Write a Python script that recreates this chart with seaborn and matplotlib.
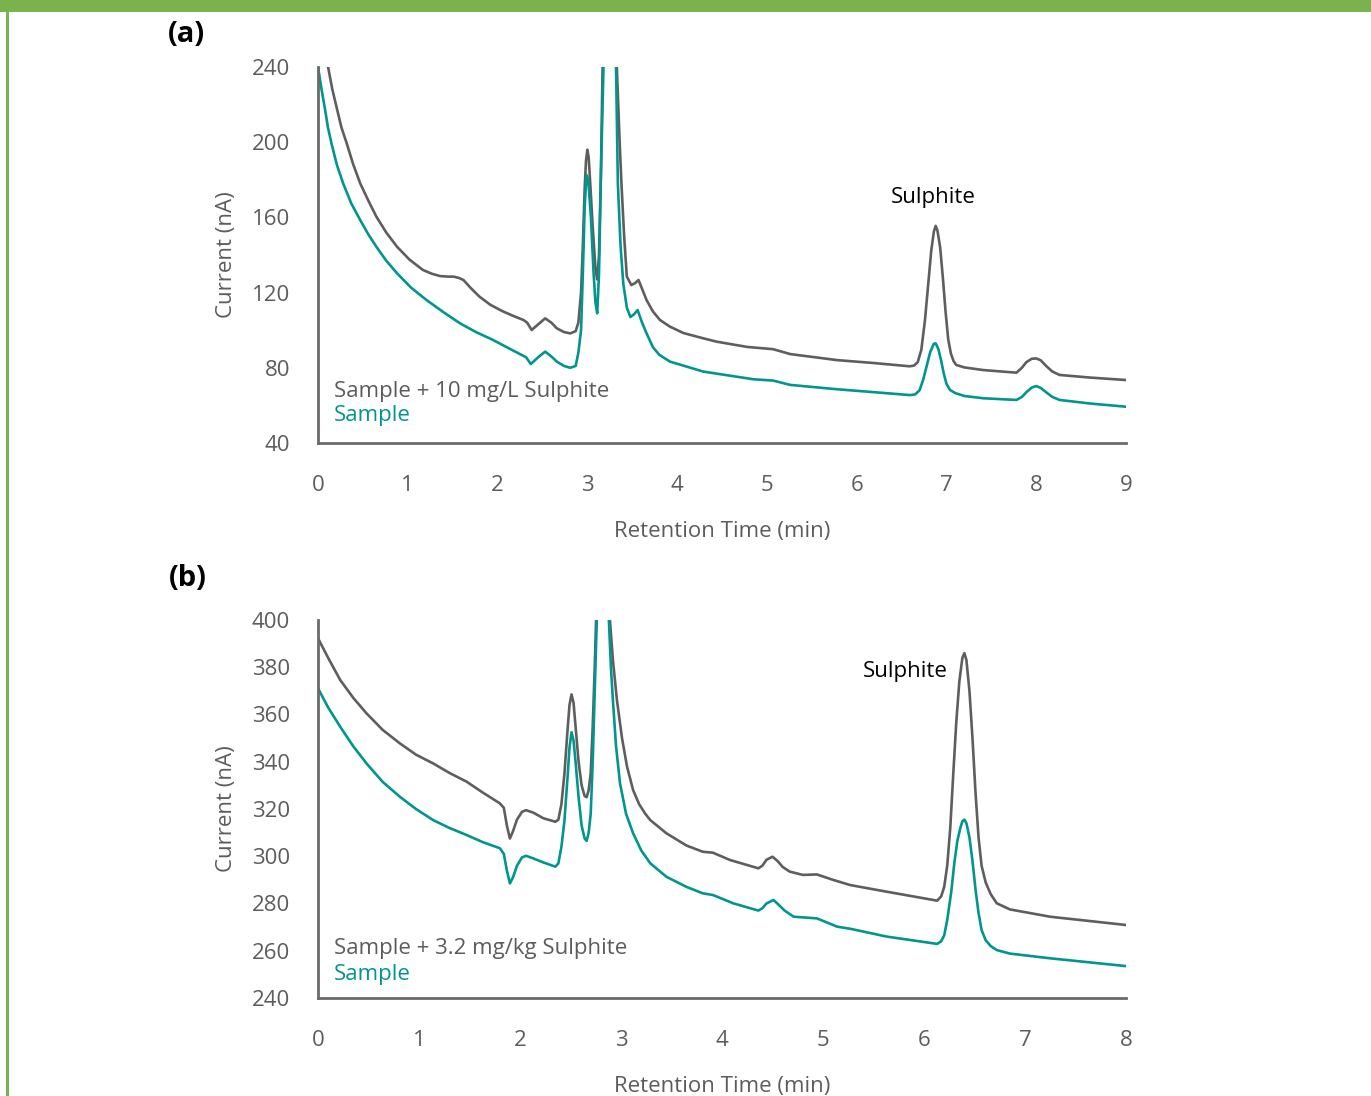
import matplotlib
matplotlib.use("Agg")
import matplotlib.pyplot as plt
from matplotlib.patches import Rectangle
import seaborn as sns
import pandas as pd

# ---------------- data: panel (a) ----------------
a_spiked_t = [0.08, 0.115, 0.16, 0.21, 0.26, 0.32, 0.39, 0.47, 0.56, 0.65, 0.76, 0.88, 1.02, 1.17, 1.27,
              1.36, 1.45, 1.51, 1.57, 1.62, 1.70, 1.80, 1.92, 2.06, 2.18, 2.29, 2.33, 2.38, 2.45, 2.53,
              2.60, 2.66, 2.74, 2.81, 2.87, 2.90, 2.93, 2.95, 2.97, 2.985, 3.00, 3.015, 3.03, 3.06, 3.09,
              3.11, 3.13, 3.15, 3.17, 3.20, 3.25, 3.30, 3.33, 3.36, 3.38, 3.41, 3.44, 3.49, 3.53, 3.57,
              3.61, 3.66, 3.73, 3.81, 3.92, 4.07, 4.29, 4.44, 4.78, 5.07, 5.26, 5.78, 6.20, 6.59, 6.64,
              6.68, 6.72, 6.76, 6.80, 6.83, 6.86, 6.88, 6.90, 6.93, 6.96, 6.99, 7.02, 7.05, 7.08, 7.11,
              7.20, 7.41, 7.78, 7.84, 7.89, 7.95, 8.00, 8.05, 8.11, 8.18, 8.26, 8.60, 9.00]
a_spiked_i = [250, 239.3, 228, 218, 208, 199.4, 188.5, 178.1, 169, 160.4, 152, 144.4, 137.5, 132, 130,
              128.8, 128.5, 128.5, 127.8, 126.7, 122.5, 117.8, 113.5, 110, 107.5, 105.4, 104, 100.1, 103, 106.3,
              104, 101, 99, 98.3, 99.5, 104, 120, 145, 175, 190, 196, 192, 180, 155, 133,
              127, 140, 180, 240, 400, 500, 300, 238, 200, 178, 150, 128.5, 124, 125, 126.7,
              122, 116, 110, 105.4, 101.9, 98.5, 95.7, 93.9, 91.1, 89.9, 87.3, 84.1, 82.5, 80.8, 81.2,
              83, 89.5, 105, 126, 142, 152.5, 155.5, 153, 144, 128, 110, 95, 87.5, 83.5, 81.5,
              80.2, 78.8, 77.4, 80, 83, 84.8, 85, 84, 81, 78, 76.2, 74.8, 73.5]

a_sample_t = [0.0, 0.04, 0.08, 0.11, 0.15, 0.21, 0.28, 0.37, 0.47, 0.56, 0.65, 0.76, 0.88, 1.04, 1.21,
              1.40, 1.58, 1.76, 1.95, 2.12, 2.27, 2.32, 2.37, 2.45, 2.53, 2.60, 2.66, 2.74, 2.81, 2.87,
              2.90, 2.93, 2.95, 2.97, 2.99, 3.01, 3.04, 3.07, 3.09, 3.11, 3.13, 3.15, 3.18, 3.22, 3.26,
              3.30, 3.34, 3.37, 3.40, 3.44, 3.48, 3.52, 3.56, 3.61, 3.66, 3.73, 3.80, 3.92, 4.29, 4.85,
              5.07, 5.26, 5.78, 6.20, 6.59, 6.65, 6.70, 6.74, 6.78, 6.82, 6.86, 6.88, 6.91, 6.94, 6.97,
              7.00, 7.04, 7.10, 7.20, 7.41, 7.78, 7.84, 7.89, 7.95, 8.00, 8.05, 8.11, 8.18, 8.26, 8.60,
              9.00]
a_sample_i = [240, 228, 217, 208, 199.4, 188, 178.1, 167.5, 158.6, 151, 144.4, 137, 130.3, 122.5, 116,
              109.5, 103.7, 99, 94.8, 90.5, 86.8, 85.5, 82, 85.5, 88.6, 86, 83.3, 81, 80, 81,
              88, 100, 130, 165, 182.6, 180, 160, 130, 115, 109, 130, 180, 240, 400, 500,
              300, 178, 145, 125, 112, 107, 108.5, 110.7, 104, 98.3, 91, 87, 83.3, 78, 73.9,
              73.2, 70.9, 68.6, 67, 65.5, 65.8, 68, 73.5, 81, 88.5, 92.8, 93, 90, 84, 77,
              71.5, 68.2, 66.5, 65, 63.8, 62.9, 64.5, 67, 69.5, 70.3, 69.3, 67, 64.5, 62.9, 61,
              59.3]

# ---------------- data: panel (b) ----------------
b_spiked_t = [0.0, 0.10, 0.22, 0.35, 0.48, 0.64, 0.81, 0.97, 1.14, 1.30, 1.47, 1.63, 1.80, 1.84, 1.87,
              1.90, 1.93, 1.97, 2.02, 2.06, 2.13, 2.23, 2.35, 2.38, 2.41, 2.44, 2.47, 2.49, 2.51, 2.53,
              2.55, 2.58, 2.61, 2.64, 2.66, 2.68, 2.70, 2.72, 2.74, 2.76, 2.82, 2.86, 2.89, 2.92, 2.96,
              3.01, 3.06, 3.12, 3.18, 3.24, 3.29, 3.45, 3.65, 3.81, 3.91, 4.08, 4.36, 4.40, 4.44, 4.50,
              4.55, 4.60, 4.67, 4.80, 4.94, 5.10, 5.27, 5.63, 6.13, 6.17, 6.20, 6.23, 6.26, 6.29, 6.32,
              6.35, 6.38, 6.40, 6.42, 6.45, 6.48, 6.51, 6.54, 6.57, 6.61, 6.66, 6.72, 6.85, 7.25, 8.00]
b_spiked_i = [392.3, 384, 374.6, 367, 360.5, 353.5, 347.8, 343, 339.3, 335.3, 331.6, 327, 322.4, 320.5, 313,
              307.5, 310.5, 315.5, 318.8, 319.5, 318.5, 316.1, 314.6, 315.5, 322, 335, 353, 364, 368.5, 365,
              355, 340, 330, 325.5, 325, 328, 335, 355, 380, 410, 480, 450, 400, 383, 366,
              350, 337.9, 328, 322, 318, 315.3, 309.7, 304.5, 301.9, 301.5, 298.4, 294.9, 296, 298.5, 299.8,
              298, 295.5, 293.5, 292.1, 292.3, 290, 287.8, 285, 281.2, 283, 287, 296, 312, 335, 357,
              374, 384, 386, 383, 370, 350, 327, 308, 296, 289, 284, 280.1, 277.5, 274.4, 270.9]

b_sample_t = [0.0, 0.10, 0.22, 0.35, 0.48, 0.64, 0.81, 0.97, 1.14, 1.30, 1.47, 1.63, 1.80, 1.84, 1.87,
              1.90, 1.93, 1.97, 2.02, 2.06, 2.13, 2.23, 2.35, 2.38, 2.41, 2.44, 2.47, 2.49, 2.51, 2.53,
              2.55, 2.58, 2.61, 2.64, 2.66, 2.68, 2.70, 2.72, 2.74, 2.76, 2.82, 2.86, 2.88, 2.90, 2.92,
              2.95, 2.99, 3.05, 3.12, 3.20, 3.29, 3.45, 3.65, 3.81, 3.91, 4.11, 4.36, 4.40, 4.44, 4.51,
              4.56, 4.62, 4.71, 4.94, 5.14, 5.27, 5.63, 6.13, 6.17, 6.20, 6.23, 6.27, 6.30, 6.33, 6.36,
              6.38, 6.40, 6.42, 6.45, 6.48, 6.51, 6.54, 6.57, 6.61, 6.66, 6.72, 6.85, 7.25, 8.00]
b_sample_i = [371.1, 363, 354.8, 346.5, 339.3, 331.5, 325.2, 320, 315.3, 312, 309, 306, 303.4, 301, 294,
              288.5, 291, 296, 299.5, 300.2, 299.1, 297.4, 295.6, 297, 304, 315, 333, 346, 352.5, 349,
              340, 325, 313, 307.5, 306.5, 310, 318, 340, 370, 400, 470, 450, 400, 380, 366,
              347, 330.9, 318, 309.7, 302.5, 297, 291.3, 287, 284.3, 283.6, 280.1, 277, 278, 280, 281.5,
              279.5, 277, 274.4, 273.7, 270.2, 269.3, 266, 262.9, 264, 266.5, 273, 285, 297, 306.5, 312,
              314.8, 315.5, 314, 308, 298, 286, 276, 268.8, 264.5, 262, 260.3, 258.8, 256.8, 253.5]

a_labels = ["Sample + 10 mg/L Sulphite", "Sample"]
b_labels = ["Sample + 3.2 mg/kg Sulphite", "Sample"]
a_xticks = list(range(0, 10))
a_yticks = [40, 80, 120, 160, 200, 240]
b_xticks = list(range(0, 9))
b_yticks = [240, 260, 280, 300, 320, 340, 360, 380, 400]

# ---------------- style ----------------
sns.set_theme(style="white")
plt.rcParams["font.family"] = ["Open Sans", "DejaVu Sans"]

GRAY = "#5e5e5e"
TEAL = "#00968f"
AXC = "#6a6a6a"
TXT = "#5c5c5c"
GREEN = "#7ab34e"
FS = 16

W, H = 1371, 1096
fig = plt.figure(figsize=(W / 100, H / 100), dpi=100)
fig.patch.set_facecolor("white")

def ax_rect(l, r, t, b):
    return [l / W, 1 - b / H, (r - l) / W, (b - t) / H]

ax_a = fig.add_axes(ax_rect(318, 1126, 67, 443))
ax_b = fig.add_axes(ax_rect(318, 1126, 620, 998))

def make_df(t1, i1, t2, i2, labels):
    d1 = pd.DataFrame({"t": t1, "i": i1, "series": labels[0]})
    d2 = pd.DataFrame({"t": t2, "i": i2, "series": labels[1]})
    return pd.concat([d1, d2], ignore_index=True)

df_a = make_df(a_spiked_t, a_spiked_i, a_sample_t, a_sample_i, a_labels)
df_b = make_df(b_spiked_t, b_spiked_i, b_sample_t, b_sample_i, b_labels)

def draw(ax, df, labels, xticks, yticks, leg_y, sul_xy):
    sns.lineplot(data=df, x="t", y="i", hue="series", palette={labels[0]: GRAY, labels[1]: TEAL},
                 hue_order=labels, estimator=None, sort=False, linewidth=1.9, ax=ax, legend=False)
    for ln in ax.lines:
        ln.set_solid_joinstyle("round")
        ln.set_solid_capstyle("round")
    ax.set_xlim(xticks[0], xticks[-1])
    ax.set_ylim(yticks[0], yticks[-1])
    ax.set_xticks(xticks)
    ax.set_yticks(yticks)
    for s in ["top", "right"]:
        ax.spines[s].set_visible(False)
    for s in ["left", "bottom"]:
        ax.spines[s].set_color(AXC)
        ax.spines[s].set_linewidth(2.0)
    ax.tick_params(axis="both", direction="out", length=7, width=2.0, color=AXC,
                   labelsize=FS, labelcolor=TXT, pad=13)
    ax.tick_params(axis="x", pad=16)
    ax.set_xlabel("Retention Time (min)", fontsize=FS, color=TXT, labelpad=18)
    ax.set_ylabel("Current (nA)", fontsize=FS, color=TXT, labelpad=11)
    ax.text(0.02, leg_y[0], labels[0], transform=ax.transAxes, fontsize=FS, color=TXT,
            va="center", ha="left")
    ax.text(0.02, leg_y[1], labels[1], transform=ax.transAxes, fontsize=FS, color=TEAL,
            va="center", ha="left")
    ax.text(sul_xy[0], sul_xy[1], "Sulphite", fontsize=FS, color="black", ha="center", va="center")
    ax.set_facecolor("white")

draw(ax_a, df_a, a_labels, a_xticks, a_yticks, (0.138, 0.072), (6.85, 170.8))
draw(ax_b, df_b, b_labels, b_xticks, b_yticks, (0.13, 0.061), (5.81, 378.4))

fig.text(186 / W, 1 - 34 / H, "(a)", fontsize=21, fontweight="bold", color="black",
         ha="center", va="center")
fig.text(188 / W, 1 - 578 / H, "(b)", fontsize=21, fontweight="bold", color="black",
         ha="center", va="center")

# green frame
fig.add_artist(Rectangle((0, 1 - 12 / H), 1, 12 / H, transform=fig.transFigure,
                         color=GREEN, lw=0, zorder=10))
fig.add_artist(Rectangle((6 / W, 0), 2.5 / W, 1, transform=fig.transFigure,
                         color=GREEN, lw=0, zorder=10))

fig.savefig("out.png", dpi=100, facecolor="white")
